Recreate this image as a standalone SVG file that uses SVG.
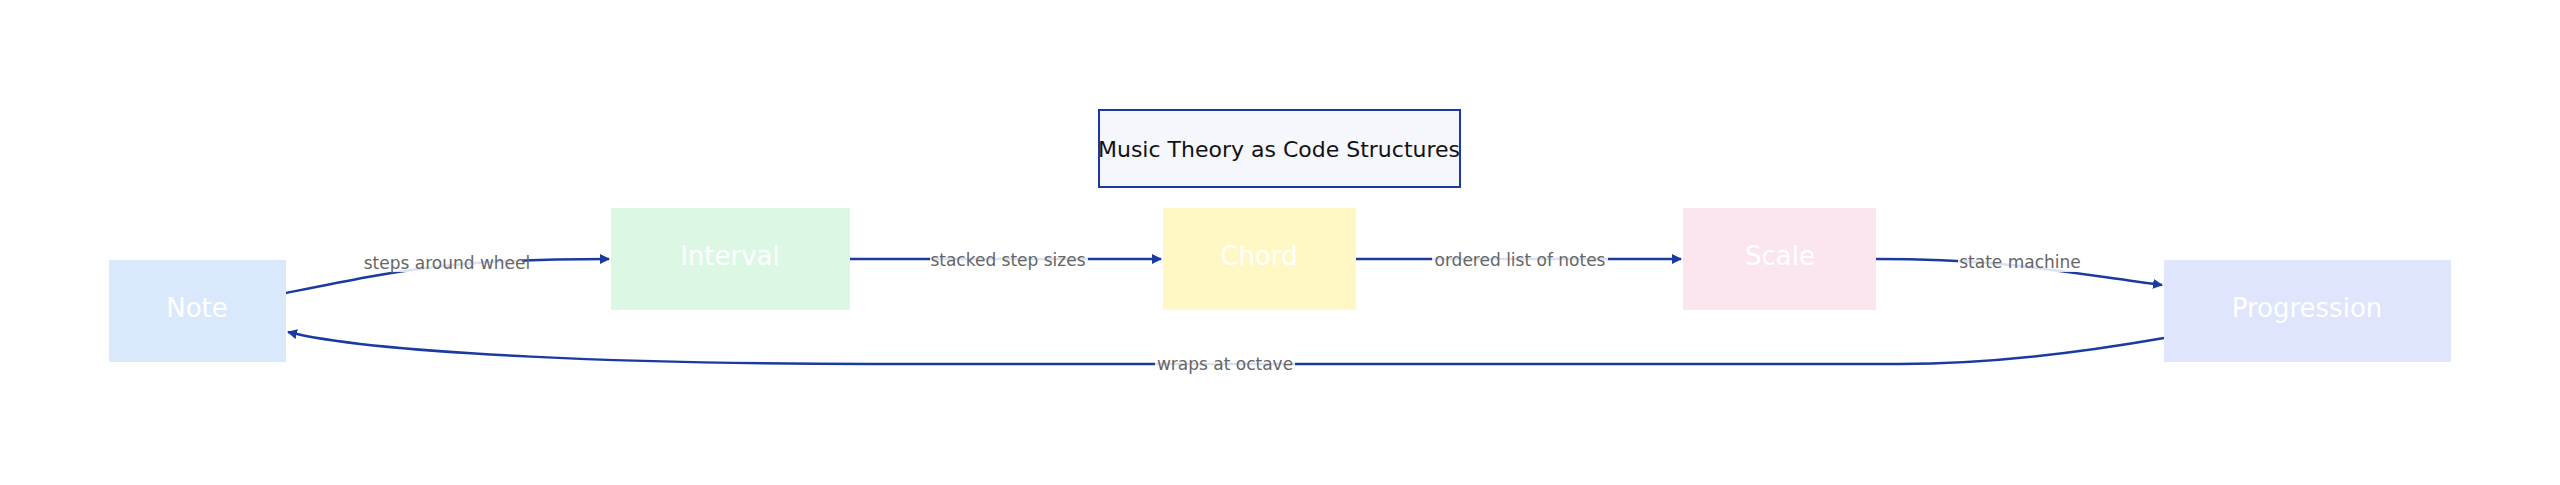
<svg xmlns="http://www.w3.org/2000/svg" width="2560" height="485" viewBox="0 0 2560 485">
<style>
text{font-family:"DejaVu Sans","Liberation Sans",sans-serif}
.nl{fill:#ffffff;font-size:26px;text-anchor:middle;dominant-baseline:central}
.el{fill:#666;font-size:17px;text-anchor:middle;dominant-baseline:central}
.e{fill:none;stroke:#1a3aa0;stroke-width:2.5}
.bg{fill:#ffffff;opacity:0.85}
</style>
<defs><marker id="a" viewBox="0 0 10 10" refX="9" refY="5" markerWidth="10" markerHeight="10" markerUnits="userSpaceOnUse" orient="auto"><path d="M0,0L10,5L0,10z" fill="#1a3aa0"/></marker></defs>
<rect width="2560" height="485" fill="#fff"/>
<g id="title"><rect x="1099" y="110" width="361" height="77" fill="#f5f7fd" stroke="#1a3aa0" stroke-width="2"/><text x="1279" y="149" font-size="22" fill="#111" text-anchor="middle" dominant-baseline="central">Music Theory as Code Structures</text></g>
<g id="connectors">
<path class="e" d="M286,293 C400,270 450,259 609,259" marker-end="url(#a)"/>
<path class="e" d="M850,259 L1161,259" marker-end="url(#a)"/>
<path class="e" d="M1356,259 L1681,259" marker-end="url(#a)"/>
<path class="e" d="M1876,259 C2000,259 2050,270 2162,285" marker-end="url(#a)"/>
<path class="e" d="M2164,338 C2050,358 1970,364 1900,364 L870,364 C650,364 380,355 288,332" marker-end="url(#a)"/>
<rect class="bg" x="390" y="250" width="132" height="22"/><text class="el" x="447" y="263">steps around wheel</text>
<rect class="bg" x="930" y="250" width="158" height="20"/><text class="el" x="1008" y="260">stacked step sizes</text>
<rect class="bg" x="1432" y="250" width="176" height="20"/><text class="el" x="1520" y="260">ordered list of notes</text>
<rect class="bg" x="1958" y="252" width="124" height="20"/><text class="el" x="2020" y="262">state machine</text>
<rect class="bg" x="1155" y="354" width="140" height="20"/><text class="el" x="1225" y="364">wraps at octave</text>
</g>
<g id="note"><rect x="109" y="260" width="177" height="102" fill="#dae8fc"/><text class="nl" x="197" y="308">Note</text></g>
<g id="interval"><rect x="611" y="208" width="239" height="102" fill="#dcf8e4"/><text class="nl" x="730" y="256">Interval</text></g>
<g id="chord"><rect x="1163" y="208" width="193" height="102" fill="#fff8c4"/><text class="nl" x="1259" y="256">Chord</text></g>
<g id="scale"><rect x="1683" y="208" width="193" height="102" fill="#fbe6f0"/><text class="nl" x="1780" y="256">Scale</text></g>
<g id="progression"><rect x="2164" y="260" width="287" height="102" fill="#dfe5fc"/><text class="nl" x="2307" y="308">Progression</text></g>
</svg>
